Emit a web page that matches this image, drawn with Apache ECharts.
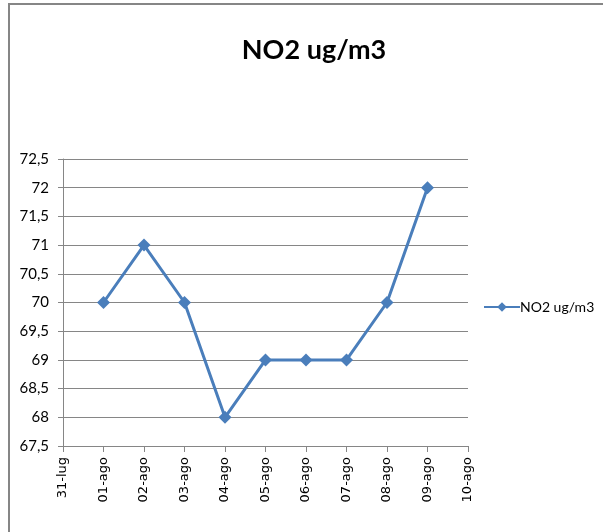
<!DOCTYPE html>
<html><head><meta charset="utf-8">
<script src="https://cdn.jsdelivr.net/npm/echarts@6/dist/echarts.min.js"></script>
<style>html,body{margin:0;padding:0;background:#fff}#c{width:603px;height:532px}</style>
</head><body><div id="c"></div>
<script>
const categories = ['31-lug','01-ago','02-ago','03-ago','04-ago','05-ago','06-ago','07-ago','08-ago','09-ago','10-ago'];
const no2Values = [null, 70, 71, 70, 68, 69, 69, 69, 70, 72, null];
const seriesName = 'NO2 ug/m3';
const titleText = 'NO2 ug/m3';

const chart = echarts.init(document.getElementById('c'));
chart.setOption({
  animation: false,
  backgroundColor: '#fff',
  title: {
    text: titleText, left: 309, top: 32, textAlign: 'center',
    textStyle: {fontFamily: 'Lato', fontWeight: 'bold', fontSize: 27, color: '#000'}
  },
  graphic: [{
    type: 'rect', shape: {x: 9, y: 4, width: 700, height: 600},
    style: {fill: 'none', stroke: '#868686', lineWidth: 2}, silent: true
  }],
  legend: {
    left: 478, top: 295, itemWidth: 36, itemHeight: 12, itemGap: 2,
    data: [{name: seriesName}],
    textStyle: {fontFamily: 'Lato', fontSize: 14, color: '#000', padding: [0,0,0,-5]}
  },
  grid: {left: 63, right: 135, top: 159, bottom: 86},
  xAxis: {
    type: 'category', data: categories, boundaryGap: false,
    axisLine: {lineStyle: {color: '#868686', width: 1}},
    axisTick: {show: true, length: 6, lineStyle: {color: '#868686'}},
    axisLabel: {rotate: 90, interval: 0, color: '#000', fontFamily: 'DejaVu Sans', fontSize: 13, margin: 11},
    splitLine: {show: false}
  },
  yAxis: {
    type: 'value', min: 67.5, max: 72.5, interval: 0.5,
    axisLine: {show: true, lineStyle: {color: '#868686'}},
    axisTick: {show: true, length: 5, lineStyle: {color: '#868686'}},
    axisLabel: {color: '#000', fontFamily: 'Lato', fontSize: 15, margin: 14,
      formatter: v => String(v).replace('.', ',')},
    splitLine: {lineStyle: {color: '#868686', width: 1}}
  },
  series: [{
    name: seriesName, type: 'line', data: no2Values,
    symbol: 'diamond', symbolSize: 13, connectNulls: false,
    lineStyle: {color: '#4a7ebb', width: 3},
    itemStyle: {color: '#4a7ebb'}
  }]
});
</script></body></html>
